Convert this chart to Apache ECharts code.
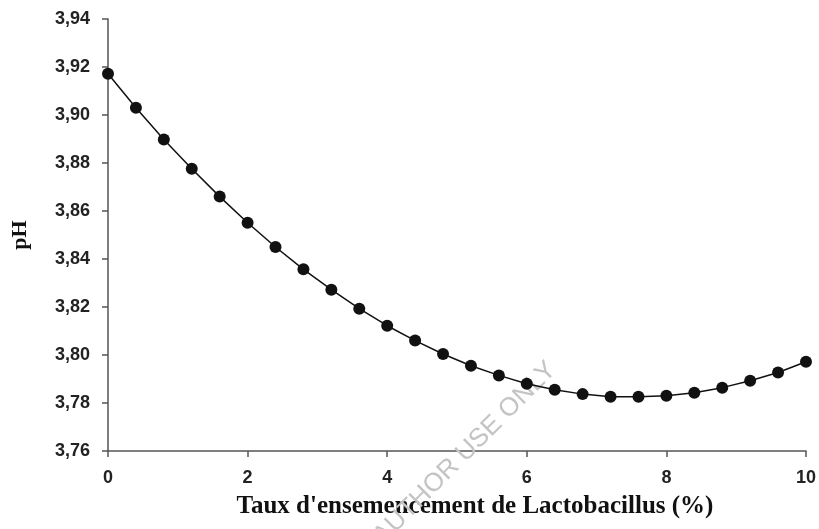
<!DOCTYPE html>
<html>
<head>
<meta charset="utf-8">
<script src="https://cdn.jsdelivr.net/npm/echarts@6/dist/echarts.min.js"></script>
<style>html,body{margin:0;padding:0;background:#fff}#c{width:819px;height:529px}</style>
</head>
<body>
<div id="c"></div>
<script>
var xValues = [0, 0.4, 0.8, 1.2, 1.6, 2.0, 2.4, 2.8, 3.2, 3.6, 4.0, 4.4, 4.8, 5.2, 5.6, 6.0, 6.4, 6.8, 7.2, 7.6, 8.0, 8.4, 8.8, 9.2, 9.6, 10.0];
var phValues = [3.9172, 3.9030, 3.8898, 3.8776, 3.8660, 3.8551, 3.8450, 3.8357, 3.8272, 3.8193, 3.8122, 3.8060, 3.8004, 3.7955, 3.7915, 3.7880, 3.7855, 3.7837, 3.7826, 3.7826, 3.7830, 3.7843, 3.7864, 3.7893, 3.7927, 3.7972];
var xTicks = [0, 2, 4, 6, 8, 10];
var yTicks = [3.76, 3.78, 3.80, 3.82, 3.84, 3.86, 3.88, 3.90, 3.92, 3.94];
var xTitle = "Taux d'ensemencement de Lactobacillus (%)";
var yTitle = "pH";
var watermark = "FOR AUTHOR USE ONLY";

var chart = echarts.init(document.getElementById('c'), null, {renderer: 'canvas'});
var data = xValues.map(function (x, i) { return [x, phValues[i]]; });
var axisColor = '#555';
chart.setOption({
  animation: false,
  backgroundColor: '#fff',
  grid: {left: 108, right: 13, top: 19, bottom: 78, containLabel: false},
  xAxis: {
    type: 'value', min: xTicks[0], max: xTicks[xTicks.length - 1], interval: 2,
    axisLine: {show: true, onZero: false, lineStyle: {color: axisColor, width: 1.5}},
    axisTick: {show: true, length: 6, lineStyle: {color: axisColor, width: 1.5}},
    splitLine: {show: false},
    axisLabel: {margin: 18, color: '#222', fontFamily: 'Liberation Sans, Arial, sans-serif', fontWeight: 'bold', fontSize: 18},
    name: xTitle, nameLocation: 'middle', nameGap: 43,
    nameTextStyle: {color: '#111', fontFamily: 'Liberation Serif, Times New Roman, serif', fontWeight: 'bold', fontSize: 25, padding: [0, 0, 0, 36]}
  },
  yAxis: {
    type: 'value', min: yTicks[0], max: yTicks[yTicks.length - 1], interval: 0.02,
    axisLine: {show: true, onZero: false, lineStyle: {color: axisColor, width: 1.5}},
    axisTick: {show: true, length: 6, lineStyle: {color: axisColor, width: 1.5}},
    splitLine: {show: false},
    axisLabel: {margin: 18, color: '#222', fontFamily: 'Liberation Sans, Arial, sans-serif', fontWeight: 'bold', fontSize: 18,
      formatter: function (v) { return v.toFixed(2).replace('.', ','); }},
    name: yTitle, nameLocation: 'middle', nameGap: 77, nameRotate: 90,
    nameTextStyle: {color: '#111', fontFamily: 'Liberation Serif, Times New Roman, serif', fontWeight: 'bold', fontSize: 22}
  },
  series: [{
    type: 'line', data: data, symbol: 'circle', symbolSize: 12,
    itemStyle: {color: '#111'},
    lineStyle: {color: '#111', width: 1.5},
    z: 3
  }],
  graphic: [{
    type: 'text', x: 552, y: 366, rotation: Math.PI / 4, z: 1,
    style: {text: watermark, fill: '#c4c4c4', font: '26px "Liberation Sans", Arial, sans-serif', textAlign: 'right', textVerticalAlign: 'middle'}
  }]
});
</script>
</body>
</html>
